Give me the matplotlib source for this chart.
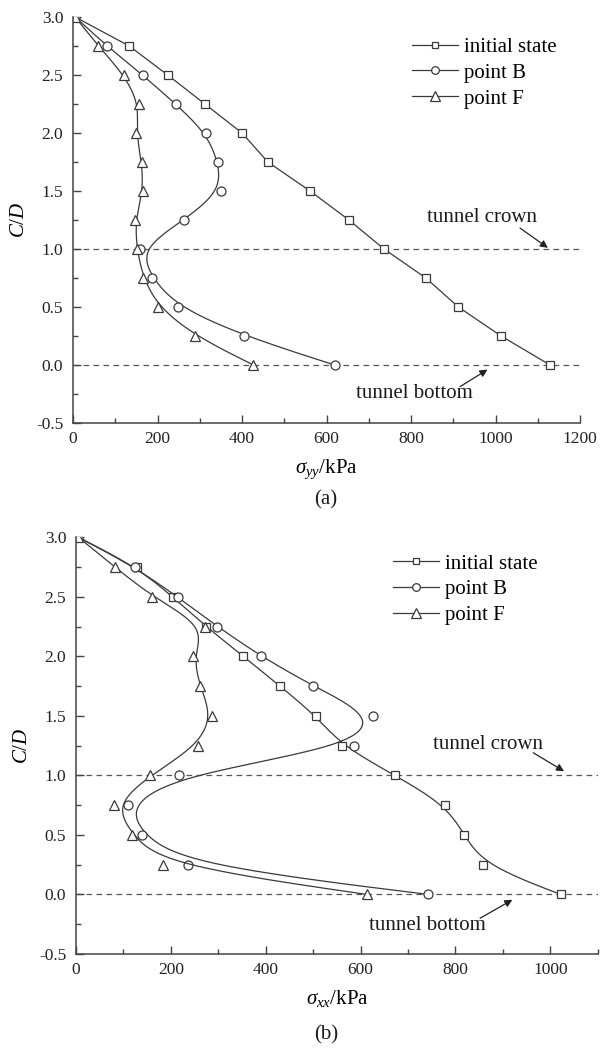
import numpy as np
import matplotlib
matplotlib.use("Agg")
import matplotlib.pyplot as plt
from matplotlib.ticker import MultipleLocator, FormatStrFormatter

plt.rcParams['font.family'] = ['Liberation Serif', 'DejaVu Serif']
plt.rcParams['mathtext.fontset'] = 'custom'
plt.rcParams['mathtext.rm'] = 'Liberation Serif'
plt.rcParams['mathtext.it'] = 'Liberation Serif:italic'
plt.rcParams['axes.unicode_minus'] = False

# C/D levels shared by every series
cd = [3.0, 2.75, 2.5, 2.25, 2.0, 1.75, 1.5, 1.25, 1.0, 0.75, 0.5, 0.25, 0.0]

# (a) sigma_yy, kPa
syy_init = [5, 133, 224, 312, 400, 461, 561, 653, 736, 835, 912, 1013, 1129]
syy_B = [5, 80, 165, 243, 315, 344, 350, 263, 159, 186, 248, 405, 619]
syy_F = [5, 60, 121, 157, 149, 163, 166, 147, 151, 166, 202, 289, 427]

# (b) sigma_xx, kPa
sxx_init = [5, 128, 204, 274, 353, 430, 506, 560, 673, 779, 819, 859, 1022]
sxx_B = [5, 124, 214, 298, 390, 500, 627, 587, 218, 110, 140, 237, 743]
sxx_F = [5, 82, 161, 273, 247, 261, 287, 257, 156, 81, 119, 183, 613]

labels = ['initial state', 'point B', 'point F']
markers = ['s', 'o', '^']
msizes = [6, 6.5, 7.5]

LC = '#3a3a3a'
TC = '#1a1a1a'


def bspline(x, y, n=25):
    # clamped uniform cubic B-spline through end points (Origin style)
    x = np.asarray(x, float)
    y = np.asarray(y, float)
    px = np.r_[x[0], x[0], x, x[-1], x[-1]]
    py = np.r_[y[0], y[0], y, y[-1], y[-1]]
    t = np.linspace(0, 1, n)
    b0 = (1 - t) ** 3 / 6
    b1 = (3 * t ** 3 - 6 * t ** 2 + 4) / 6
    b2 = (-3 * t ** 3 + 3 * t ** 2 + 3 * t + 1) / 6
    b3 = t ** 3 / 6
    xs, ys = [], []
    for i in range(len(px) - 3):
        xs.append(b0 * px[i] + b1 * px[i + 1] + b2 * px[i + 2] + b3 * px[i + 3])
        ys.append(b0 * py[i] + b1 * py[i + 1] + b2 * py[i + 2] + b3 * py[i + 3])
    return np.concatenate(xs), np.concatenate(ys)


def draw_series(ax, xv, smooth, i):
    if smooth:
        sx, sy = bspline(xv, cd)
        ax.plot(sx, sy, color=LC, lw=0.9)
    else:
        ax.plot(xv, cd, color=LC, lw=0.9)
    ax.plot(xv, cd, ls='none', marker=markers[i], ms=msizes[i], mfc='white',
            mec=LC, mew=0.9)
    ax.plot([], [], color=LC, lw=0.9, marker=markers[i], ms=msizes[i] - 1,
            mfc='white', mec=LC, mew=0.9, label=labels[i])


def style_axes(ax, xmax, xmajor):
    ax.set_xlim(0, xmax)
    ax.set_ylim(-0.5, 3.0)
    ax.xaxis.set_major_locator(MultipleLocator(xmajor))
    ax.xaxis.set_minor_locator(MultipleLocator(xmajor / 2))
    ax.yaxis.set_major_locator(MultipleLocator(0.5))
    ax.yaxis.set_minor_locator(MultipleLocator(0.25))
    ax.yaxis.set_major_formatter(FormatStrFormatter('%.1f'))
    ax.spines['top'].set_visible(False)
    ax.spines['right'].set_visible(False)
    for s in ('left', 'bottom'):
        ax.spines[s].set_linewidth(1.1)
        ax.spines[s].set_color('#444444')
    ax.tick_params(which='both', direction='in', color='#444444', width=1.0,
                   labelsize=12.5, labelcolor='#222222')
    ax.tick_params(which='major', length=6)
    ax.tick_params(which='minor', length=3.5)
    ax.tick_params(axis='x', pad=6)
    ax.tick_params(axis='y', pad=7)
    for yy in (1.0, 0.0):
        ax.axhline(yy, color='#555555', lw=0.9, ls=(0, (4.5, 3.5)), zorder=0)
    ax.set_ylabel('$C/D$', fontsize=15, labelpad=5)


def note(ax, text, tpos, tail, tip):
    ax.text(tpos[0], tpos[1], text, fontsize=15, ha='center', va='center',
            color=TC)
    ax.annotate('', xy=tip, xytext=tail,
                arrowprops=dict(arrowstyle='-|>', color='#222222', lw=0.9,
                                mutation_scale=11, shrinkA=0, shrinkB=0))


fig = plt.figure(figsize=(6, 10.49), dpi=100)

# ---- (a)
ax1 = fig.add_axes([0.1217, 0.5968, 0.845, 0.387])
draw_series(ax1, syy_init, False, 0)
draw_series(ax1, syy_B, True, 1)
draw_series(ax1, syy_F, True, 2)
style_axes(ax1, 1200, 200)
ax1.set_xlabel(r'$\sigma_{yy}$/kPa', fontsize=15, labelpad=7)
ax1.legend(loc='upper left', bbox_to_anchor=(0.668, 0.950), frameon=False,
           fontsize=15, handlelength=2.2, handletextpad=0.3, labelspacing=0.3,
           borderpad=0, borderaxespad=0)
note(ax1, 'tunnel crown', (968, 1.27), (1058, 1.18), (1124, 1.01))
note(ax1, 'tunnel bottom', (807, -0.25), (916, -0.187), (981, -0.04))
fig.text(0.5433, 1 - 500 / 1049, '(a)', fontsize=15, ha='center', va='center',
         color=TC)

# ---- (b)
ax2 = fig.add_axes([0.1267, 0.0906, 0.8695, 0.3972])
draw_series(ax2, sxx_init, True, 0)
draw_series(ax2, sxx_B, True, 1)
draw_series(ax2, sxx_F, True, 2)
style_axes(ax2, 1100, 200)
ax2.set_xlabel(r'$\sigma_{xx}$/kPa', fontsize=15, labelpad=7)
ax2.legend(loc='upper left', bbox_to_anchor=(0.607, 0.960), frameon=False,
           fontsize=15, handlelength=2.2, handletextpad=0.3, labelspacing=0.3,
           borderpad=0, borderaxespad=0)
note(ax2, 'tunnel crown', (869, 1.263), (964, 1.19), (1029, 1.035))
note(ax2, 'tunnel bottom', (740, -0.258), (852, -0.20), (920, -0.045))
fig.text(0.5433, 1 - 1035 / 1049, '(b)', fontsize=15, ha='center', va='center',
         color=TC)

fig.savefig('out.png', dpi=100)
